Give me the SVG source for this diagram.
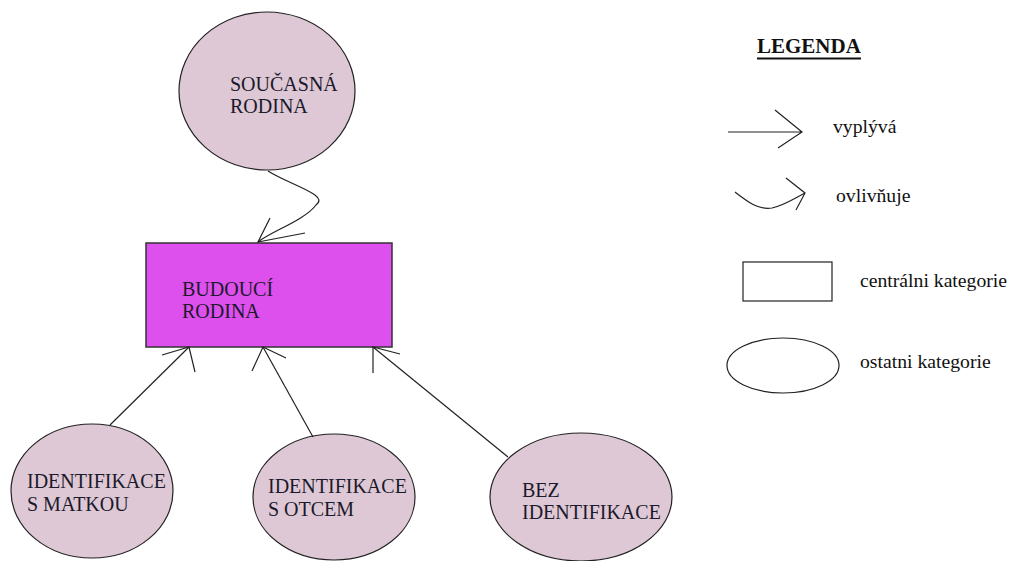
<svg xmlns="http://www.w3.org/2000/svg" width="1015" height="561" viewBox="0 0 1015 561">
<style>
.oth{fill:#dfc8d6;stroke:#222;stroke-width:1.2}
.cen{fill:#dd50ee;stroke:#333;stroke-width:1.5}
.ln{fill:none;stroke:#222;stroke-width:1.2}
</style>
<rect width="1015" height="561" fill="#fff"/>
<g font-family="Liberation Serif, Times New Roman, serif" fill="#1a1a2a" font-size="20">
<g id="soucasna">
<ellipse class="oth" cx="267" cy="91" rx="88" ry="79"/>
<text x="230" y="91">SOUČASNÁ</text>
<text x="230" y="113">RODINA</text>
</g>
<g id="budouci">
<rect class="cen" x="146" y="243" width="246" height="104"/>
<text x="182" y="296">BUDOUCÍ</text>
<text x="182" y="318">RODINA</text>
</g>
<g id="matka">
<ellipse class="oth" cx="92" cy="491" rx="81" ry="67"/>
<text x="27" y="488">IDENTIFIKACE</text>
<text x="27" y="511">S MATKOU</text>
</g>
<g id="otec">
<ellipse class="oth" cx="334" cy="497" rx="81" ry="63"/>
<text x="268" y="493">IDENTIFIKACE</text>
<text x="268" y="516">S OTCEM</text>
</g>
<g id="bez">
<ellipse class="oth" cx="581" cy="497" rx="91" ry="64"/>
<text x="522" y="497">BEZ</text>
<text x="522" y="519">IDENTIFIKACE</text>
</g>
</g>
<g id="connectors">
<path class="ln" d="M268,171 C290,185 330,195 316,205 C305,220 270,232 258,242"/>
<path class="ln" d="M270,218 L258,242 L305,233"/>
<path class="ln" d="M110,425 L189,347"/>
<path class="ln" d="M162,355 L189,347 L195,372"/>
<path class="ln" d="M313,437 L263,347"/>
<path class="ln" d="M252,371 L263,347 L286,358"/>
<path class="ln" d="M508,457 L373,347"/>
<path class="ln" d="M373,373 L373,347 L400,354"/>
</g>
<g id="legend" font-family="Liberation Serif, Times New Roman, serif" fill="#111" font-size="19.7">
<text x="757" y="53" font-weight="bold" font-size="21">LEGENDA</text>
<line x1="757" y1="58.5" x2="861" y2="58.5" stroke="#111" stroke-width="2"/>
<path class="ln" d="M728,132 L802,132 M775,110 L802,132 L778,148"/>
<text x="833" y="133">vyplývá</text>
<path class="ln" d="M735,192 C748,202 758,210 772,208 C785,205 795,198 805,193 M786,178 L805,193 L796,210"/>
<text x="836" y="202">ovlivňuje</text>
<rect x="743" y="262" width="89" height="39" fill="#fff" stroke="#222" stroke-width="1.2"/>
<text x="860" y="287">centrálni kategorie</text>
<ellipse cx="783" cy="365.5" rx="56" ry="27.5" fill="#fff" stroke="#222" stroke-width="1.2"/>
<text x="860" y="368">ostatni kategorie</text>
</g>
</svg>
